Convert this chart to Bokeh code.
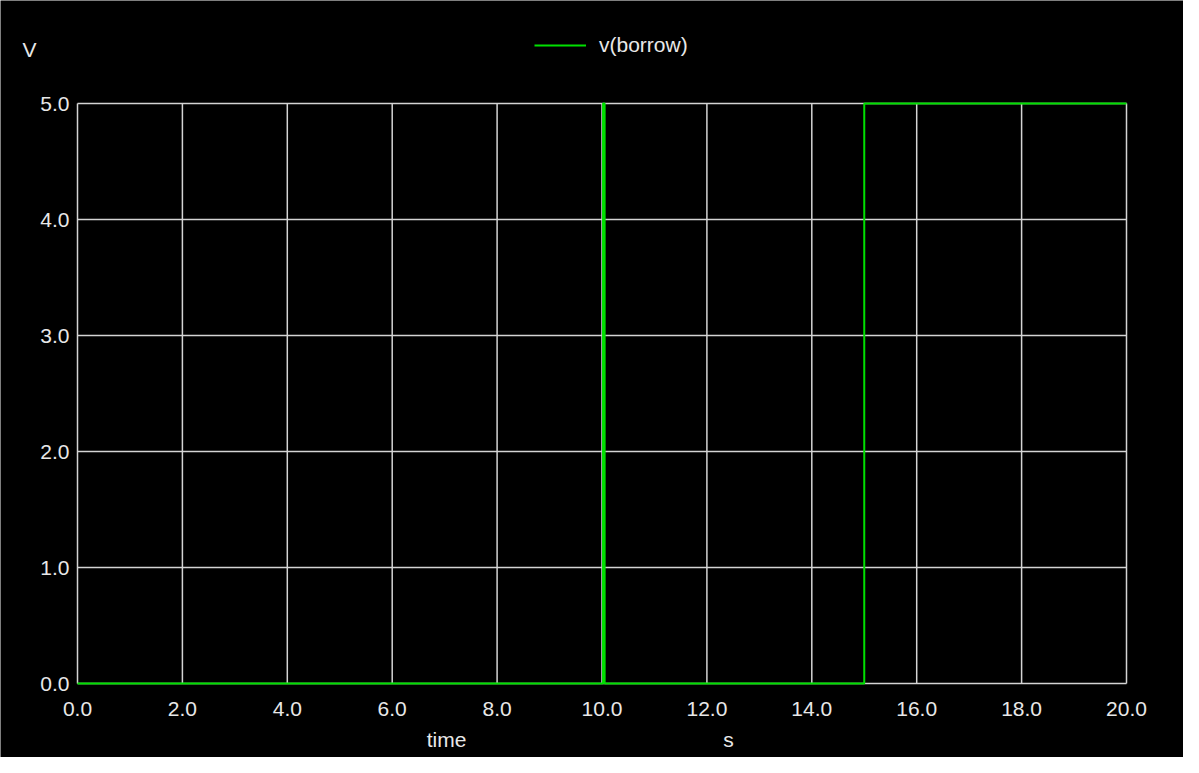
from bokeh.plotting import figure
from bokeh.models import (Range1d, FixedTicker, PrintfTickFormatter, Legend, LegendItem,
                          Label, LinearAxis)
from bokeh.embed import file_html
from bokeh.resources import INLINE

# data
time_s = [0.0, 10.02, 10.02, 10.05, 10.05, 15.0, 15.0, 20.0]
v_borrow = [0.0, 0.0, 5.0, 5.0, 0.0, 0.0, 5.0, 5.0]
x_ticks = [0, 2, 4, 6, 8, 10, 12, 14, 16, 18, 20]
y_ticks = [0, 1, 2, 3, 4, 5]
series_name = "v(borrow)"
x_unit_label = "time"
x_unit = "s"
y_unit = "V"

FONT = "Liberation Sans"
TXT = "#e8e8e8"
FS = "21px"
GRID = "#d4d4d4"
GREEN = "#00e000"

W, H = 1183, 757
# plot box (pixels in figure) -> ranges
L_PX, R_PX, T_PX, B_PX = 77.0, 1126.0, 103.0, 683.0
x0, x1 = 0.0, 20.0
y0, y1 = 0.0, 5.0
sx = (R_PX - L_PX) / (x1 - x0)
sy = (B_PX - T_PX) / (y1 - y0)
xr = Range1d(x0 - L_PX / sx, x1 + (W - R_PX) / sx)
yr = Range1d(y0 - (H - B_PX) / sy, y1 + T_PX / sy)

p = figure(width=W, height=H, output_backend="svg", toolbar_location=None,
           x_range=xr, y_range=yr, x_axis_location=None, y_axis_location=None,
           min_border=0)
p.background_fill_color = "black"
p.border_fill_color = "black"
p.outline_line_color = None
p.grid.visible = False

# grid lines of the plot box, from the tick lists
p.segment(x0=x_ticks, y0=[y0] * len(x_ticks), x1=x_ticks, y1=[y1] * len(x_ticks),
          line_color=GRID, line_width=1.5)
p.segment(x0=[x0] * len(y_ticks), y0=y_ticks, x1=[x1] * len(y_ticks), y1=y_ticks,
          line_color=GRID, line_width=1.5)

xaxis = LinearAxis(fixed_location=y0, bounds=(x0, x1), ticker=FixedTicker(ticks=x_ticks),
                   formatter=PrintfTickFormatter(format="%.1f"), major_label_standoff=12)
yaxis = LinearAxis(fixed_location=x0, bounds=(y0, y1), ticker=FixedTicker(ticks=y_ticks),
                   formatter=PrintfTickFormatter(format="%.1f"), major_label_standoff=2)
for ax in (xaxis, yaxis):
    ax.axis_line_color = None
    ax.major_tick_line_color = None
    ax.minor_tick_line_color = None
    ax.major_label_text_color = TXT
    ax.major_label_text_font = FONT
    ax.major_label_text_font_size = FS
p.add_layout(xaxis, "below")
p.add_layout(yaxis, "left")

r = p.line(time_s, v_borrow, line_color=GREEN, line_width=2)

legend = Legend(items=[LegendItem(label=series_name, renderers=[r])],
                location=(534, 700), orientation="horizontal",
                background_fill_alpha=0, border_line_color=None,
                padding=0, margin=0, glyph_width=52, glyph_height=20, label_height=20,
                label_standoff=13, label_text_color=TXT, label_text_font=FONT,
                label_text_font_size=FS)
p.add_layout(legend, "center")

p.add_layout(Label(x=22, y=H - 49, x_units="screen", y_units="screen", text=y_unit,
                   text_color=TXT, text_font=FONT, text_font_size=FS,
                   text_baseline="alphabetic"))
p.add_layout(Label(x=446, y=H - 739, x_units="screen", y_units="screen", text=x_unit_label,
                   text_color=TXT, text_font=FONT, text_font_size=FS,
                   text_align="center", text_baseline="alphabetic"))
p.add_layout(Label(x=728, y=H - 739, x_units="screen", y_units="screen", text=x_unit,
                   text_color=TXT, text_font=FONT, text_font_size=FS,
                   text_align="center", text_baseline="alphabetic"))

open("out.html", "w").write(file_html(p, INLINE))
